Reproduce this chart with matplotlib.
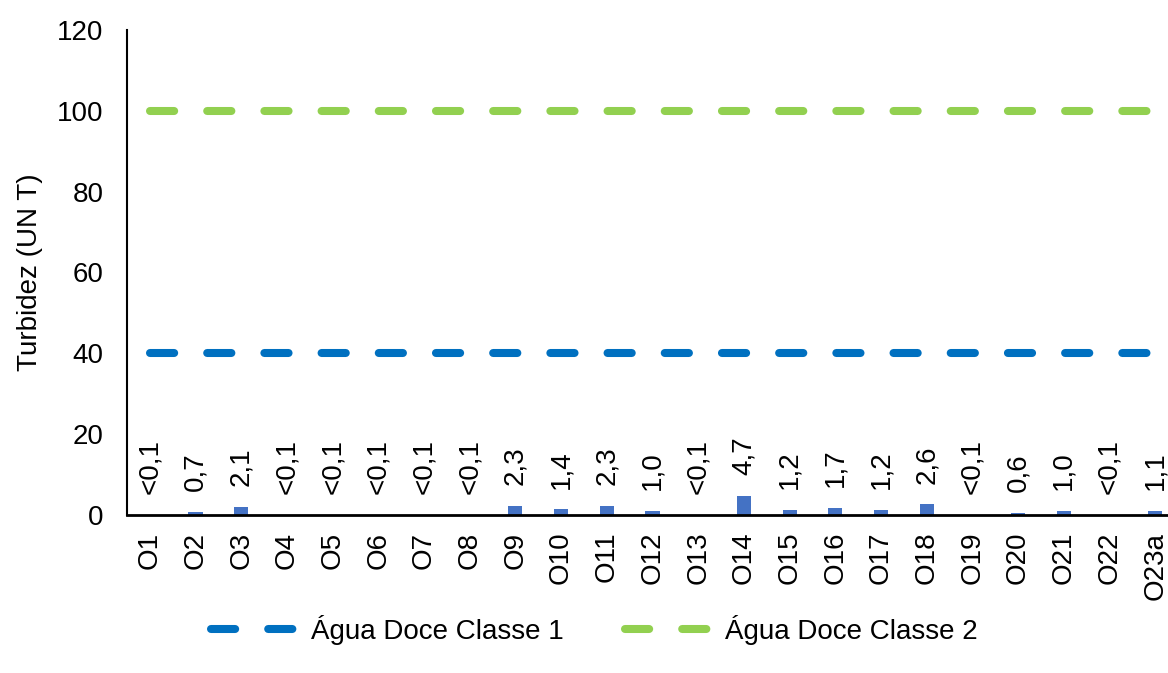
import numpy as np
import matplotlib.pyplot as plt
from matplotlib.lines import Line2D

plt.rcParams['font.family'] = ['Liberation Sans', 'DejaVu Sans']

# pontos de amostragem e turbidez (UNT)
pontos = ['O1', 'O2', 'O3', 'O4', 'O5', 'O6', 'O7', 'O8', 'O9', 'O10', 'O11', 'O12',
          'O13', 'O14', 'O15', 'O16', 'O17', 'O18', 'O19', 'O20', 'O21', 'O22', 'O23a']
turbidez = [0.05, 0.7, 2.1, 0.05, 0.05, 0.05, 0.05, 0.05, 2.3, 1.4, 2.3, 1.0,
            0.05, 4.7, 1.2, 1.7, 1.2, 2.6, 0.05, 0.6, 1.0, 0.05, 1.1]
rotulos = ['<0,1', '0,7', '2,1', '<0,1', '<0,1', '<0,1', '<0,1', '<0,1', '2,3', '1,4',
           '2,3', '1,0', '<0,1', '4,7', '1,2', '1,7', '1,2', '2,6', '<0,1', '0,6',
           '1,0', '<0,1', '1,1']
classe1 = 40
classe2 = 100

fs = 20
fig = plt.figure(figsize=(11.68, 6.73), dpi=100)
# eixo passa um pouco da borda direita, como no original
ax = fig.add_axes([127 / 1168, 1 - 515 / 673, 1051 / 1168, 485 / 673])

x = np.arange(len(pontos))
ax.bar(x, turbidez, width=0.31, color='#4472C4')

for xi, v, r in zip(x, turbidez, rotulos):
    ax.annotate(r, (xi, v), xytext=(0, 15), textcoords='offset points',
                rotation=90, ha='center', va='bottom', fontsize=fs)

# tracejado: lw 8px, traço 3 lw, espaço 4.1 lw (com pontas arredondadas)
traco = (0, (3, 4.1))
ax.plot(x, [classe1] * len(x), color='#0070C0', lw=5.8, ls=traco,
        dash_capstyle='round')
ax.plot(x, [classe2] * len(x), color='#92D050', lw=5.8, ls=traco,
        dash_capstyle='round')

ax.set_xlim(-0.5, len(pontos) - 0.5)
ax.set_ylim(0, 120)
ax.set_yticks(range(0, 121, 20))
ax.set_xticks(x)
ax.set_xticklabels(pontos, rotation=90, fontsize=fs)
ax.tick_params(axis='y', labelsize=fs, length=0, pad=17)
ax.tick_params(axis='x', length=0, pad=12)
ax.set_ylabel('Turbidez (UN T)', fontsize=fs, labelpad=10)

for s in ['top', 'right']:
    ax.spines[s].set_visible(False)
ax.spines['left'].set_linewidth(1.5)
ax.spines['bottom'].set_linewidth(2)

handles = [Line2D([], [], color='#0070C0', lw=5.8, ls=traco, dash_capstyle='round'),
           Line2D([], [], color='#92D050', lw=5.8, ls=traco, dash_capstyle='round')]
fig.legend(handles, ['Água Doce Classe 1', 'Água Doce Classe 2'], loc='center',
           bbox_to_anchor=(594 / 1168, 1 - 630 / 673), ncol=2, frameon=False,
           fontsize=fs, handlelength=3.4, handletextpad=0.2, columnspacing=2.2,
           borderpad=0)

fig.savefig('out.png', dpi=100)
